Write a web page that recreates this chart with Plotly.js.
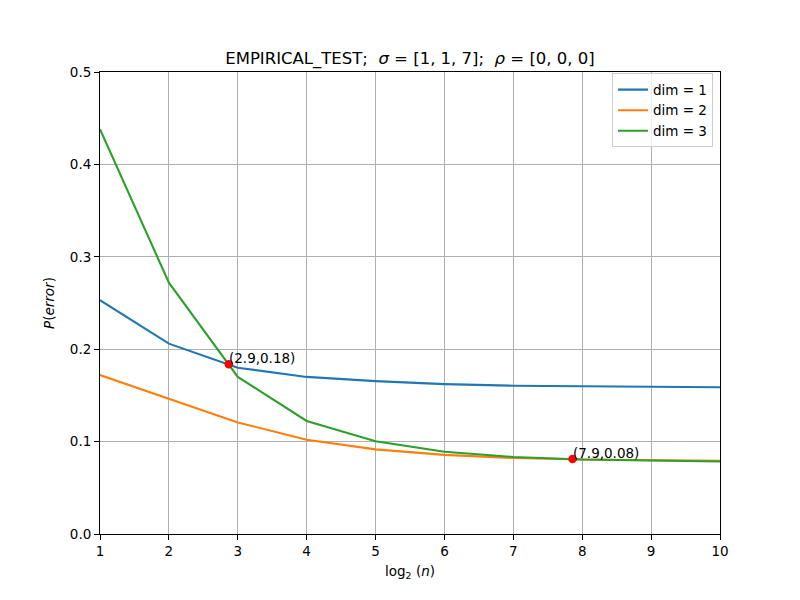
<!DOCTYPE html>
<html>
<head>
<meta charset="utf-8">
<script src="https://cdn.plot.ly/plotly-3.0.1.min.js"></script>
<style>
  html, body { margin: 0; padding: 0; background: #fff; }
  #chart { width: 800px; height: 600px; }
</style>
</head>
<body>
<div id="chart"></div>
<script>
// log2(n) sample sizes
const logN = [1, 2, 3, 4, 5, 6, 7, 8, 9, 10];

// empirical error probability per dimension
const dim1 = [0.253, 0.206, 0.180, 0.170, 0.1655, 0.1622, 0.1605, 0.1598, 0.1593, 0.1588];
const dim2 = [0.172, 0.146, 0.1207, 0.102, 0.0916, 0.0856, 0.0822, 0.0806, 0.0797, 0.0791];
const dim3 = [0.438, 0.272, 0.170, 0.1223, 0.1003, 0.089, 0.0834, 0.0806, 0.0795, 0.0784];

// crossing points marked on the chart
const crossX = [2.87, 7.86];
const crossY = [0.1836, 0.0812];

const seriesNames = ['dim = 1', 'dim = 2', 'dim = 3'];
const seriesColors = ['#1f77b4', '#ff7f0e', '#2ca02c'];
const seriesData = [dim1, dim2, dim3];

const FONT = 'DejaVu Sans, sans-serif';

const traces = seriesData.map((ys, i) => ({
  x: logN,
  y: ys,
  type: 'scatter',
  mode: 'lines',
  name: seriesNames[i],
  line: { color: seriesColors[i], width: 2.1 }
}));

traces.push({
  x: crossX,
  y: crossY,
  type: 'scatter',
  mode: 'markers',
  marker: { color: '#ff0000', size: 8.5 },
  showlegend: false,
  hoverinfo: 'x+y'
});

const annotations = crossX.map((x, i) => ({
  x: x,
  y: crossY[i],
  xref: 'x',
  yref: 'y',
  text: '(' + x.toFixed(1) + ',' + crossY[i].toFixed(2) + ')',
  showarrow: false,
  xanchor: 'left',
  yanchor: 'bottom',
  xshift: -2,
  yshift: -4,
  font: { family: FONT, size: 13.5, color: '#000' }
}));

const axisCommon = {
  showline: true,
  linecolor: '#000',
  linewidth: 1,
  mirror: true,
  ticks: 'outside',
  ticklen: 5,
  tickwidth: 1,
  tickcolor: '#000',
  showgrid: true,
  gridcolor: '#b0b0b0',
  gridwidth: 1,
  zeroline: false,
  tickfont: { family: FONT, size: 13.5, color: '#000' }
};

const layout = {
  width: 800,
  height: 600,
  paper_bgcolor: '#fff',
  plot_bgcolor: '#fff',
  margin: { l: 100, r: 80, t: 72, b: 66 },
  font: { family: FONT, color: '#000' },
  title: {
    text: 'EMPIRICAL_TEST;  <i>σ</i> = [1, 1, 7];  <i>ρ</i> = [0, 0, 0]',
    font: { family: FONT, size: 16.5, color: '#000' },
    x: 0.5,
    xref: 'paper',
    y: 1 - 58 / 600,
    yanchor: 'middle'
  },
  xaxis: Object.assign({}, axisCommon, {
    range: [1, 10],
    tickmode: 'array',
    tickvals: logN,
    ticktext: logN.map(String),
    title: {
      text: 'log<sub>2</sub> (<i>n</i>)',
      font: { family: FONT, size: 13.5, color: '#000' },
      standoff: 8
    }
  }),
  yaxis: Object.assign({}, axisCommon, {
    range: [0, 0.5],
    tickmode: 'linear',
    tick0: 0,
    dtick: 0.1,
    tickformat: '.1f',
    title: {
      text: '<i>P</i>(<i>error</i>)',
      font: { family: FONT, size: 13.5, color: '#000' },
      standoff: 12
    }
  }),
  legend: {
    x: 0.9887,
    y: 0.997,
    xanchor: 'right',
    yanchor: 'top',
    bgcolor: 'rgba(255,255,255,0.8)',
    bordercolor: '#cccccc',
    borderwidth: 1,
    font: { family: FONT, size: 13.5, color: '#000' },
    tracegroupgap: 0,
    itemwidth: 30
  },
  annotations: annotations,
  showlegend: true
};

Plotly.newPlot('chart', traces, layout, { displayModeBar: false, staticPlot: true });
</script>
</body>
</html>
